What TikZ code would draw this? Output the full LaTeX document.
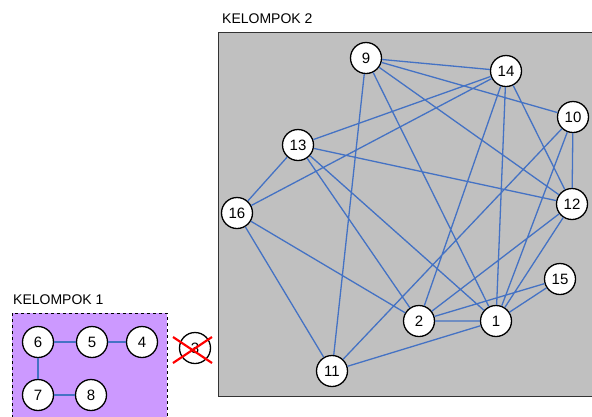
\documentclass[tikz,border=0pt]{standalone}
\usepackage{fontspec}
\setmainfont{Liberation Sans}
\definecolor{edgeblue}{RGB}{68,114,196}
\definecolor{boxgray}{RGB}{192,192,192}
\definecolor{boxpurple}{RGB}{204,153,255}
\begin{document}
\begin{tikzpicture}[x=1pt,y=-1pt,
  vtx/.style={circle,draw=black,line width=1.3pt,fill=white,minimum size=31pt,inner sep=0pt,font=\fontsize{15}{15}\selectfont},
  lnk/.style={draw=edgeblue,line width=1.3pt},
  grouplabel/.style={anchor=base west,inner sep=0pt,font=\fontsize{14}{14}\selectfont}]
\useasboundingbox (0,0) rectangle (592,416);
% group boxes
\draw[fill=boxgray,draw=black!80,line width=1pt] (218,32) rectangle (600,396);
\draw[fill=boxpurple,draw=black,dashed,line width=0.9pt] (12,313) rectangle (167,425);
\node[grouplabel] (lab2) at (222,23) {KELOMPOK 2};
\node[grouplabel] (lab1) at (13,304) {KELOMPOK 1};
% group 2 nodes
\node[vtx] (n9)  at (366,58)  {9};
\node[vtx] (n14) at (506,71)  {14};
\node[vtx] (n10) at (573,117) {10};
\node[vtx] (n13) at (298,145) {13};
\node[vtx] (n16) at (237,213) {16};
\node[vtx] (n12) at (572,204) {12};
\node[vtx] (n15) at (560,279) {15};
\node[vtx] (n2)  at (419,321) {2};
\node[vtx] (n1)  at (496,321) {1};
\node[vtx] (n11) at (332,371) {11};
% group 1 nodes
\node[vtx] (n6) at (38,342) {6};
\node[vtx] (n5) at (92,342) {5};
\node[vtx] (n4) at (142,342) {4};
\node[vtx] (n7) at (38,395) {7};
\node[vtx] (n8) at (91,395) {8};
\node[vtx] (n3) at (195,348) {3};
% red cross over 3
\coordinate (x1) at (173,337);
\coordinate (x2) at (212,363);
\coordinate (x3) at (173,363);
\coordinate (x4) at (212,337);
\draw[red,line width=2.2pt] (x1) -- (x2);
\draw[red,line width=2.2pt] (x3) -- (x4);
% group 2 edges
\path[lnk]
  (n9) -- (n14)  (n9) -- (n10)  (n9) -- (n12)  (n9) -- (n1)  (n9) -- (n11)
  (n14) -- (n13) (n14) -- (n16) (n14) -- (n2)  (n14) -- (n1) (n14) -- (n12)
  (n10) -- (n11) (n10) -- (n1)  (n10) -- (n12)
  (n13) -- (n12) (n13) -- (n16) (n13) -- (n2)  (n13) -- (n1)
  (n16) -- (n2)  (n16) -- (n11)
  (n12) -- (n2)  (n12) -- (n1)
  (n2) -- (n1)   (n2) -- (n15)
  (n1) -- (n11)  (n1) -- (n15);
% group 1 edges
\path[lnk] (n6) -- (n5) (n5) -- (n4) (n6) -- (n7) (n7) -- (n8);
\end{tikzpicture}
\end{document}
